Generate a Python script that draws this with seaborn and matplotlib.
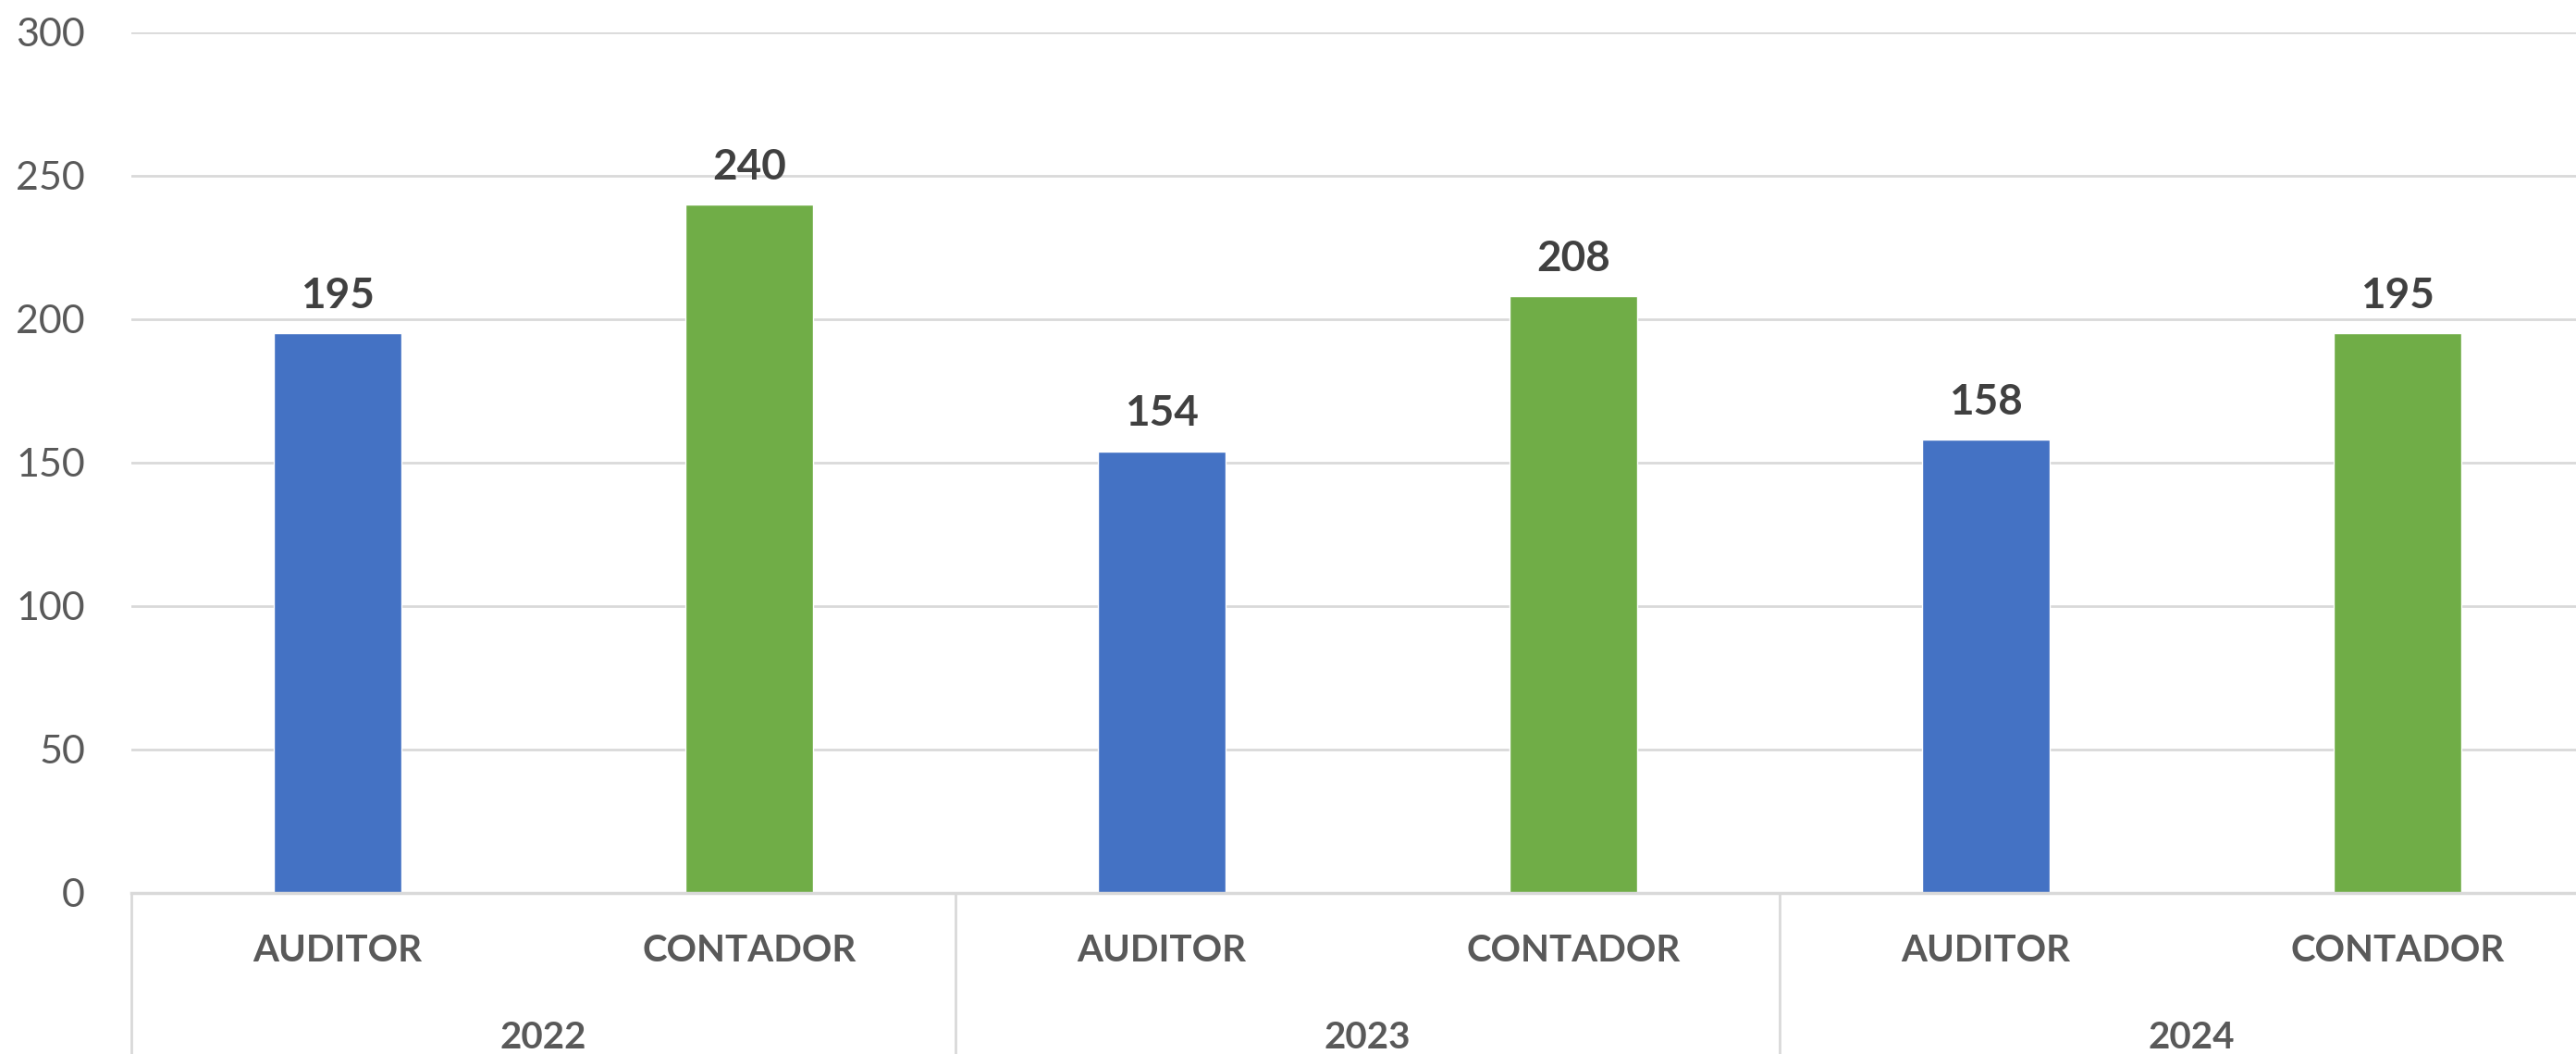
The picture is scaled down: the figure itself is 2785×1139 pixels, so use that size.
import pandas as pd
import matplotlib
matplotlib.use("Agg")
import matplotlib.pyplot as plt
import matplotlib.transforms as mtransforms
import seaborn as sns

###########数据部分###########
years = ["2022", "2023", "2024"]
roles = ["AUDITOR", "CONTADOR"]
values = [195, 240, 154, 208, 158, 195]
yticks = [0, 50, 100, 150, 200, 250, 300]
colors = {"AUDITOR": "#4472C4", "CONTADOR": "#70AD47"}

###########绘图部分###########
sns.set_theme(style="white")
plt.rcParams['font.family'] = ['Lato', 'DejaVu Sans']

keys = [y + " " + r for y in years for r in roles]
df = pd.DataFrame({
    "key": keys,
    "role": [r for y in years for r in roles],
    "value": values,
})

fig = plt.figure(figsize=(27.85, 11.39), dpi=100)
ax = fig.add_axes([0.051, 0.1528, 0.9598, 0.8165])

sns.barplot(data=df, x="key", y="value", hue="role", order=keys,
            palette=colors, dodge=False, width=0.31, legend=False,
            saturation=1, ax=ax)

ax.set_xlim(-0.5, len(keys) - 0.5)
ax.set_ylim(0, 300)
ax.set_yticks(yticks)
ax.set_yticklabels([str(t) for t in yticks], fontsize=31, color="#595959")
ax.tick_params(axis='y', length=0, pad=36)
ax.tick_params(axis='x', length=0)
ax.set_xticklabels([])
ax.set_xlabel(None)
ax.set_ylabel(None)
ax.yaxis.grid(True, color="#D9D9D9", linewidth=2)
ax.set_axisbelow(True)
for s in ["top", "right", "left"]:
    ax.spines[s].set_visible(False)
ax.spines["bottom"].set_color("#D9D9D9")
ax.spines["bottom"].set_linewidth(2.5)

for cont in ax.containers:
    ax.bar_label(cont, fmt="%d", padding=14, fontsize=33, fontweight="bold",
                 color="#404040")

trans = mtransforms.blended_transform_factory(ax.transData, ax.transAxes)
for i, k in enumerate(keys):
    ax.text(i, -0.067, k.split(" ")[1], transform=trans, ha="center", va="center",
            fontsize=29, fontweight="bold", color="#595959")
for j, y in enumerate(years):
    ax.text(2 * j + 0.5, -0.168, y, transform=trans, ha="center", va="center",
            fontsize=29, fontweight="bold", color="#595959")
    ax.plot([2 * j - 0.5, 2 * j - 0.5], [0, -0.3], transform=trans,
            color="#D9D9D9", linewidth=2, clip_on=False)

fig.savefig("out.png", dpi=100)
